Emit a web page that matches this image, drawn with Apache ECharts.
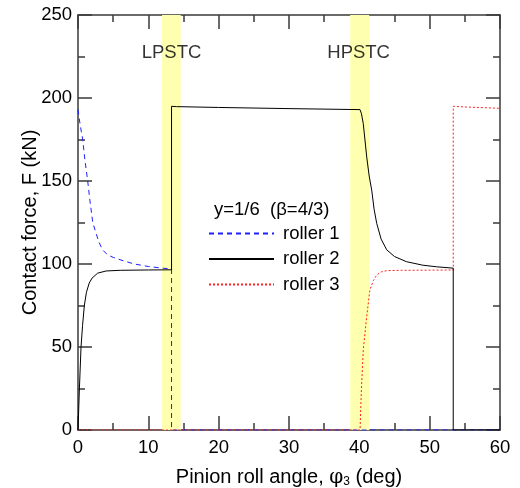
<!DOCTYPE html>
<html>
<head>
<meta charset="utf-8">
<script src="https://cdn.jsdelivr.net/npm/echarts@6/dist/echarts.min.js"></script>
<style>html,body{margin:0;padding:0;background:#fff}#c{width:520px;height:488px}</style>
</head>
<body>
<div id="c"></div>
<script>
// ---- data ----
const roller1X = [0, 0.3, 0.67, 1.0, 1.38, 1.7, 2.1, 2.6, 3.0, 3.5, 4.2, 5.0, 6.4, 8.0, 10.0, 12.0, 13.3, 13.3, 60];
const roller1Y = [193, 184, 175, 162, 150, 138, 125, 118, 113, 108.5, 105.5, 104, 102, 100, 98.5, 97.5, 97, 0, 0];

const roller2X = [0, 0.2, 0.43, 0.65, 0.9, 1.2, 1.6, 2.0, 2.8, 4.0, 6.0, 10, 13.3, 13.3, 14, 20, 30, 40.1, 40.3, 40.56, 41.05, 41.4, 41.76, 42.1, 42.47, 43.1, 43.9, 45, 46.7, 49, 51, 53.35, 53.35, 60];
const roller2Y = [0, 25, 50, 63, 75, 83, 88.6, 91.5, 94.5, 95.8, 96.2, 96.4, 96.5, 195, 194.8, 194.3, 193.6, 193, 190.5, 184.6, 164.5, 153, 144.5, 133, 124.5, 115, 108.5, 104.5, 101.4, 99.3, 98.3, 97.5, 0, 0];

const roller3X = [0, 40.1, 40.3, 40.56, 41.05, 41.5, 42.0, 42.47, 43.1, 43.9, 46, 50, 53.35, 53.35, 55, 60];
const roller3Y = [0, 0, 25, 48.4, 68.4, 84.4, 90, 93.4, 95.2, 96, 96.2, 96.3, 96.4, 195, 194.6, 193.8];

const bandNames = ['LPSTC', 'HPSTC'];
const bandStart = [11.95, 38.7];
const bandEnd = [14.6, 41.4];
const bandLabelX = [13.3, 39.9];
const bandLabelY = [227, 227];

const seriesNames = ['roller 1', 'roller 2', 'roller 3'];
const legendTitle = 'y=1/6  (\u03b2=4/3)';
const xTitle = 'Pinion roll angle, ';
const yTitle = 'Contact force, F (kN)';

const xMin = 0, xMax = 60, xStep = 10;
const yMin = 0, yMax = 250, yStep = 50;

// ---- build ----
const zip = (xs, ys) => xs.map((x, i) => [x, ys[i]]);
const FONT = '"Liberation Sans", Arial, sans-serif';
const AX = '#3a3a3a';
const FS = 18.5;
const TFS = 20;

function axisCommon(show) {
  return {
    axisLine: { show: true, onZero: false, lineStyle: { color: AX, width: 1.5 } },
    axisTick: { show: true, inside: true, length: 14, lineStyle: { color: AX, width: 1.5 } },
    minorTick: { show: true, splitNumber: 2, length: 7, lineStyle: { color: AX, width: 1.5 } },
    splitLine: { show: false },
    axisLabel: { show: show, color: '#000', fontFamily: FONT, fontSize: FS }
  };
}

const chart = echarts.init(document.getElementById('c'), null, { renderer: 'canvas' });
const option = {
  animation: false,
  backgroundColor: '#fff',
  grid: { left: 78, right: 20, top: 15, bottom: 58, containLabel: false, outerBoundsMode: 'none' },
  xAxis: [
    Object.assign(axisCommon(true), {
      type: 'value', min: xMin, max: xMax, interval: xStep, position: 'bottom',
      name: '{a|' + xTitle + '}{b|\u03c6}{s|3}{a| (deg)}',
      nameLocation: 'middle', nameGap: 37,
      nameTextStyle: {
        rich: {
          a: { fontFamily: FONT, fontSize: TFS, color: '#000' },
          b: { fontFamily: '"DejaVu Serif", serif', fontSize: TFS, color: '#000' },
          s: { fontFamily: FONT, fontSize: 12, color: '#000', verticalAlign: 'bottom', padding: [9, 0, 0, 0] }
        }
      },
      axisLabel: { color: '#000', fontFamily: FONT, fontSize: FS, margin: 8 }
    }),
    Object.assign(axisCommon(false), {
      type: 'value', min: xMin, max: xMax, interval: xStep, position: 'top'
    })
  ],
  yAxis: [
    Object.assign(axisCommon(true), {
      type: 'value', min: yMin, max: yMax, interval: yStep, position: 'left',
      name: yTitle, nameLocation: 'middle', nameGap: 38, nameMoveOverlap: false,
      nameTextStyle: { fontFamily: FONT, fontSize: TFS, color: '#000' },
      axisLabel: { color: '#000', fontFamily: FONT, fontSize: FS, margin: 6 }
    }),
    Object.assign(axisCommon(false), {
      type: 'value', min: yMin, max: yMax, interval: yStep, position: 'right'
    })
  ],
  legend: {
    orient: 'vertical', left: 208, top: 224, padding: 0,
    itemWidth: 65, itemHeight: 14, itemGap: 6.5,
    data: seriesNames,
    itemStyle: { opacity: 0 },
    textStyle: { fontFamily: FONT, fontSize: FS, color: '#000', padding: [0, 0, 0, 4] }
  },
  graphic: [{
    type: 'text', left: 214, top: 200,
    style: { text: legendTitle, font: FS + 'px ' + FONT, fill: '#000' }
  }],
  series: [
    {
      name: 'bands', type: 'line', data: [], silent: true,
      markArea: {
        silent: true,
        itemStyle: { color: '#ffffb0' },
        data: bandStart.map((s, i) => [{ xAxis: s }, { xAxis: bandEnd[i] }])
      }
    },
    {
      name: 'labels', type: 'scatter', symbolSize: 0, silent: true,
      data: bandNames.map((n, i) => ({ value: [bandLabelX[i], bandLabelY[i]], name: n })),
      label: { show: true, position: 'inside', formatter: p => p.name, fontFamily: FONT, fontSize: FS, color: '#000' },
      z: 5
    },
    {
      name: seriesNames[0], type: 'line', data: zip(roller1X, roller1Y), symbol: 'none',
      lineStyle: { color: '#1f1fff', width: 1, type: [5, 4] }, itemStyle: { color: '#1f1fff' }, z: 3
    },
    {
      name: seriesNames[1], type: 'line', data: zip(roller2X, roller2Y), symbol: 'none',
      lineStyle: { color: '#000', width: 1, type: 'solid' }, itemStyle: { color: '#000' }, z: 4
    },
    {
      name: seriesNames[2], type: 'line', data: zip(roller3X, roller3Y), symbol: 'none',
      lineStyle: { color: '#ff2020', width: 1, type: [2, 2] }, itemStyle: { color: '#ff2020' }, z: 3
    }
  ]
};
chart.setOption(option);
</script>
</body>
</html>
